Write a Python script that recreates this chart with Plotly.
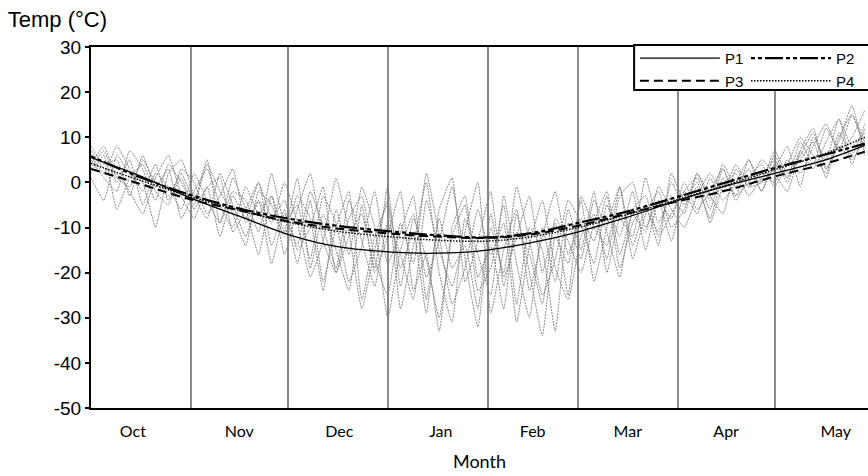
import plotly.graph_objects as go

# ---------------- data ----------------
month_names = ["Oct", "Nov", "Dec", "Jan", "Feb", "Mar", "Apr", "May"]
month_label_days = [13, 46, 77, 108.5, 137, 166.5, 197, 231]
month_start_days = [31, 61, 92, 123, 151, 182, 212]

grey_days = list(range(0, 241, 4))  # daily series sampled every 4 days from 1 Oct

grey_a = [6, 2, 8, 3, -2, 4, -4, 1,
          -6, -1, -12, -3, -8, 0, -14,
          -6, -18, -4, -22, -10, -2, -26, -12,
          -5, -28, -14, 0, -20, -31, -8, -16,
          -25, -3, -18, -30, -10, -22, -6,
          -15, -2, -20, -8, -12, 1, -9, -3,
          -7, 2, -4, 4, -1, 3, -2,
          6, 1, 9, 4, 12, 7, 15, 9]
grey_b = [3, 7, 0, 5, -5, 2, -1, -6,
          2, -4, -9, 1, -6, -16, -3,
          -11, 1, -19, -7, -15, -24, -5, -20,
          -12, -2, -24, -16, -33, -10, -3, -21,
          -14, -28, -7, -20, -34, -12, -18,
          -4, -22, -10, -1, -14, -6, -11, 0,
          -5, -1, -8, 1, -3, 5, 0,
          3, 8, -1, 10, 5, 14, 8, 11]
grey_c = [8, 4, 5, -3, 6, -1, 3, -8,
          -2, 3, -5, -10, -1, -7, -3,
          -16, -6, 2, -13, -20, -8, -3, -17,
          -25, -9, -18, 2, -12, -27, -19, -6,
          -16, -9, -31, -14, -4, -19, -26,
          -12, -7, -17, -3, 0, -10, -4, -13,
          -2, 1, -6, 3, -3, 0, 5,
          2, -2, 7, 12, 3, 9, 17, 6]
grey_d = [1, -4, 6, 2, 0, -10, 2, 5,
          -3, -8, 2, -5, -12, -4, -9,
          0, -9, -21, -13, 1, -11, -28, -15,
          -4, -19, -11, -29, -6, 1, -22, -13,
          -2, -23, -11, -16, -27, -8, -13,
          -20, -9, -2, -16, -7, -11, -1, -6,
          -10, -3, 2, -2, 4, -1, 2,
          0, 5, 2, 8, 13, 7, 10, 16]
grey_e = [5, 1, -2, 7, 3, -4, 4, 0,
          -5, 4, -2, -7, -14, -2, -5,
          -12, -3, -8, -24, -6, -16, -1, -10,
          -30, -15, -7, -21, -13, -1, -17, -32,
          -10, -20, -1, -13, -25, -17, -4,
          -9, -18, -5, -12, -2, -15, -4, -8,
          0, -6, -2, 3, -4, 1, 4,
          -1, 4, 10, 6, 2, 11, 6, 13]
grey_f = [2, 6, -6, 1, 4, -2, -5, 3,
          0, -7, -3, 3, -9, -4, -18,
          -7, -14, -2, -10, -19, -4, -13, -23,
          -9, -16, -26, -4, -15, -23, -11, 0,
          -29, -15, -6, -24, -12, -2, -16,
          -8, -13, -3, -19, -9, -5, -14, 2,
          -4, 0, -9, -1, 2, -3, 1,
          5, 0, 7, 3, 9, 14, 4, 12]
grey_g = [7, 3, 2, -2, -7, 1, 6, -3,
          -8, -1, 1, -11, -6, 0, -8,
          -4, -15, -10, -1, -20, -12, -7, -19,
          -1, -23, -8, -17, -30, -12, -5, -24,
          -19, -5, -27, -10, -15, -33, -9,
          -17, -4, -11, -21, -6, -3, -12, -7,
          -2, -7, 1, -4, 0, 5, -2,
          4, 1, 6, 11, 3, 8, 5, 10]
grey_h = [4, 8, 1, -1, 5, 0, -3, 2,
          -4, 5, -9, -2, -4, -11, 2,
          -9, -5, -17, -3, -9, -22, -14, -2,
          -18, -11, -3, -26, -8, -19, -14, -28,
          -7, -21, -12, -3, -20, -9, -25,
          -3, -10, -14, -1, -17, -7, -2, -10,
          -6, 2, -3, -7, 3, -1, 0,
          7, 2, 5, 9, 1, 10, 15, 7]
grey_series = [grey_a, grey_b, grey_c, grey_d, grey_e, grey_f, grey_g, grey_h]

curve_days = [0, 15, 31, 46, 61, 76, 92, 107, 123, 137, 151, 166, 182, 197, 212, 227, 240]
p1 = [5.5, 1.5, -3.5, -7.5, -11.5, -14.2, -15.4, -15.7, -15.0, -13.3, -11.0, -7.8, -4.0, -0.8, 2.0, 4.8, 8.2]
p2 = [5.8, 1.2, -2.8, -5.8, -8.0, -9.6, -10.8, -11.7, -12.2, -11.2, -9.0, -6.5, -3.2, 0.0, 3.2, 6.0, 8.6]
p3 = [3.0, -0.3, -3.8, -6.2, -8.6, -10.2, -11.3, -12.0, -12.3, -11.5, -9.6, -7.0, -4.2, -1.8, 1.3, 4.0, 6.8]
p4 = [4.2, 0.5, -3.2, -6.2, -8.8, -10.8, -12.0, -12.8, -13.0, -12.0, -10.0, -7.2, -3.8, -0.6, 2.8, 6.2, 10.0]

y_ticks = [30, 20, 10, 0, -10, -20, -30, -40, -50]
y_tick_text = [str(v) for v in y_ticks]

# ---------------- figure ----------------
fig = go.Figure()

for s in grey_series:
    fig.add_trace(go.Scatter(
        x=grey_days, y=s, mode="lines", showlegend=False, hoverinfo="skip",
        line=dict(color="#7d7d7d", width=0.9, dash="2px,1px", shape="spline", smoothing=0.4),
    ))

curves = [
    ("P1", p1, dict(color="black", width=1.3, dash="solid"), "legend", "g1"),
    ("P2", p2, dict(color="black", width=2.2, dash="4px,3px,4px,3px,18px,3px"), "legend2", "g2"),
    ("P3", p3, dict(color="black", width=2.0, dash="9px,5px"), "legend", "g3"),
    ("P4", p4, dict(color="black", width=1.4, dash="1.5px,1.5px"), "legend2", "g4"),
]
for name, vals, ln, lg, grp in curves:
    ln = dict(ln, shape="spline")
    fig.add_trace(go.Scatter(x=curve_days, y=vals, mode="lines", name=name, line=ln,
                             legend=lg, legendgroup=grp))

legend_font = dict(family="Liberation Sans, Arial, sans-serif", size=15, color="black")

fig.update_layout(
    width=868, height=476,
    margin=dict(l=91, r=0, t=47, b=68, autoexpand=False),
    paper_bgcolor="white", plot_bgcolor="white",
    title=dict(text="Temp (°C)", x=0.009, xref="container", xanchor="left",
               y=1 - 19 / 476, yref="container", yanchor="middle",
               font=dict(family="Liberation Sans, Arial, sans-serif", size=22, color="black")),
    legend=dict(x=0.700, y=1.014, xanchor="left", yanchor="top", orientation="v",
                bgcolor="rgba(0,0,0,0)", borderwidth=0, font=legend_font, itemwidth=80,
                tracegroupgap=0),
    legend2=dict(x=0.843, y=1.014, xanchor="left", yanchor="top", orientation="v",
                 bgcolor="rgba(0,0,0,0)", borderwidth=0, font=legend_font, itemwidth=80,
                 tracegroupgap=0),
    shapes=[dict(type="rect", xref="paper", yref="paper", x0=0.699, x1=1.02, y0=0.881, y1=1.0055,
                 line=dict(color="black", width=2), fillcolor="white", layer="above")],
    showlegend=True,
)

fig.update_xaxes(
    range=[0, 241], showgrid=False, zeroline=False, automargin=False,
    showline=True, linecolor="black", linewidth=2, mirror=True,
    tickmode="array", tickvals=month_label_days, ticktext=month_names,
    ticks="", ticklabelstandoff=8,
    tickfont=dict(family="Lato, sans-serif", size=16, color="black"),
    minor=dict(tickmode="array", tickvals=month_start_days, showgrid=True,
               gridcolor="#8a8a8a", gridwidth=1.5, ticks=""),
    title=dict(text="Month", standoff=16,
               font=dict(family="Lato, sans-serif", size=18, color="black")),
)
fig.update_yaxes(
    range=[-50, 30], showgrid=False, zeroline=False, automargin=False,
    showline=True, linecolor="black", linewidth=2,
    tickmode="array", tickvals=y_ticks, ticktext=y_tick_text,
    ticks="outside", ticklen=4, tickwidth=1.5, tickcolor="black",
    tickfont=dict(family="Liberation Sans, Arial, sans-serif", size=19, color="black"),
)

fig.write_html("out.html",
               config={"displayModeBar": False},
               post_script="document.body.style.margin='0px';document.body.style.overflow='hidden';")
